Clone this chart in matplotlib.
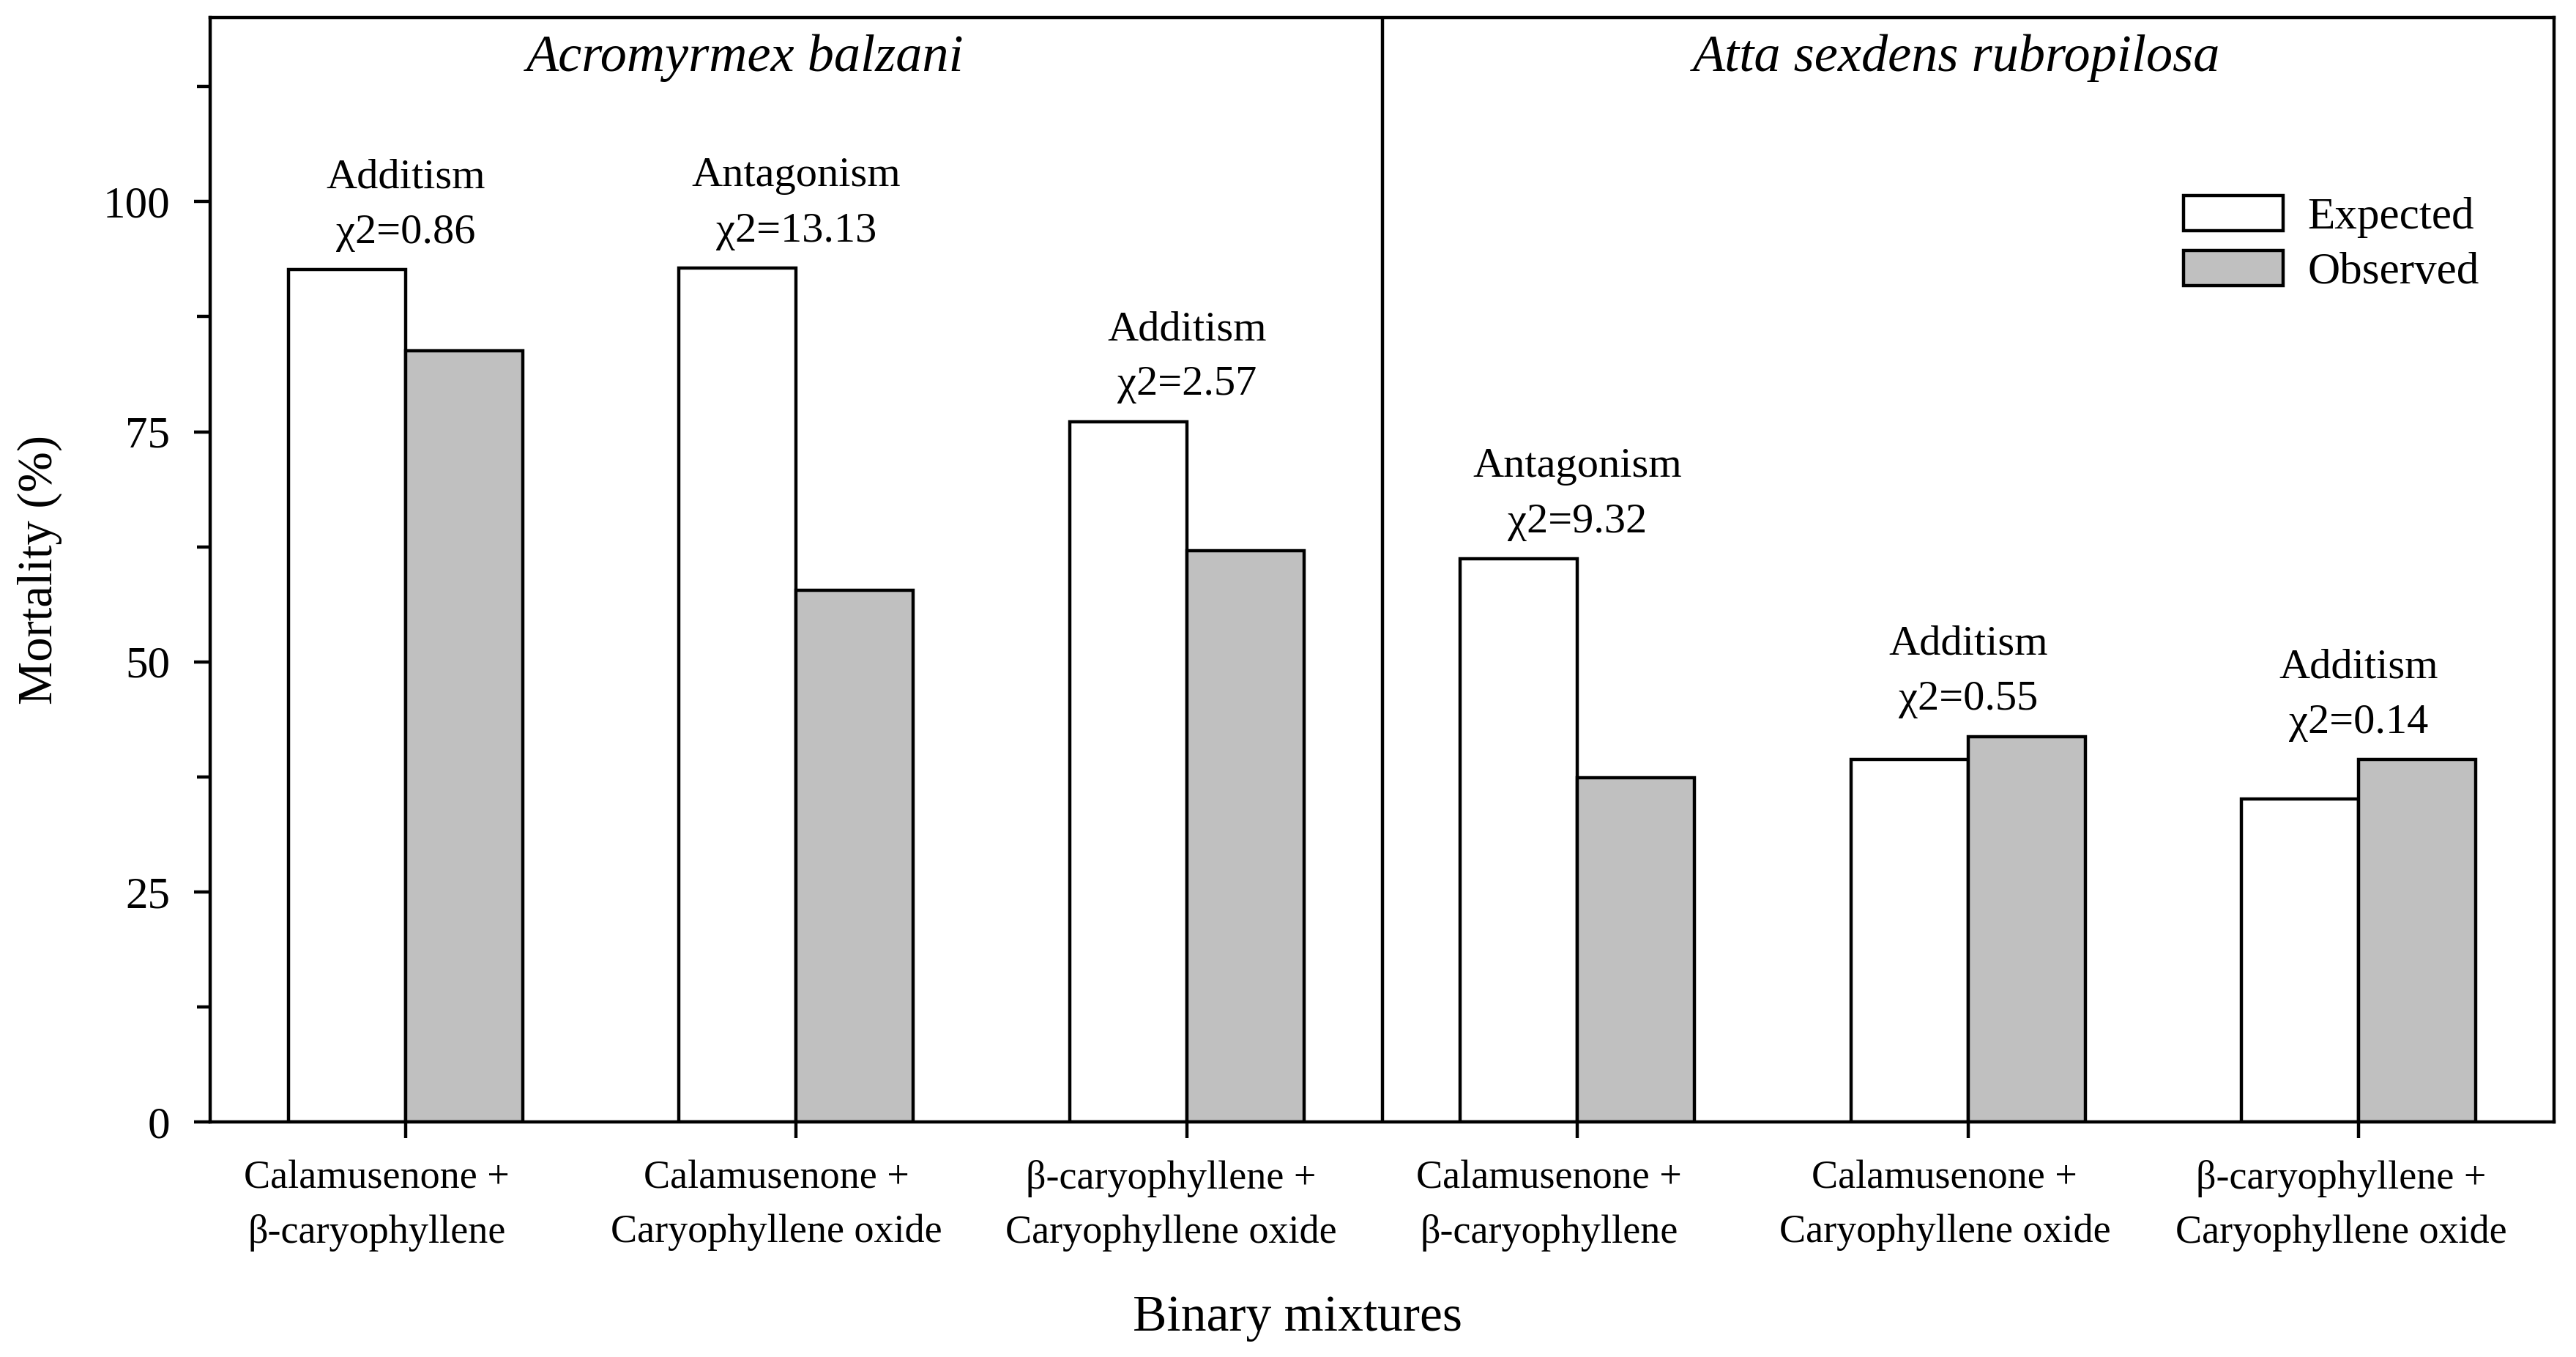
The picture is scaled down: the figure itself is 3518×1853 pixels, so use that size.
import matplotlib
matplotlib.use("Agg")
import matplotlib.pyplot as plt
import matplotlib.transforms as mtransforms
from matplotlib.ticker import MultipleLocator
import numpy as np

plt.rcParams['font.family'] = ['Liberation Serif', 'DejaVu Serif']

# data
mixtures = [
    "Calamusenone +\n\u03b2-caryophyllene",
    "Calamusenone +\nCaryophyllene oxide",
    "\u03b2-caryophyllene +\nCaryophyllene oxide",
    "Calamusenone +\n\u03b2-caryophyllene",
    "Calamusenone +\nCaryophyllene oxide",
    "\u03b2-caryophyllene +\nCaryophyllene oxide",
]
expected = [92.6, 92.8, 76.1, 61.2, 39.4, 35.1]
observed = [83.8, 57.8, 62.1, 37.4, 41.9, 39.4]
effects = ["Additism", "Antagonism", "Additism", "Antagonism", "Additism", "Additism"]
chi2 = ["0.86", "13.13", "2.57", "9.32", "0.55", "0.14"]
species = ["Acromyrmex balzani", "Atta sexdens rubropilosa"]

# tick labels in the original sit a bit left of their ticks (pixels at 200 dpi)
label_shift = [-39, -27, -22, -39, -32, -24]

lw = 1.6
DPI = 200
fig = plt.figure(figsize=(17.59, 9.265), dpi=DPI)
ax = fig.add_axes([0.0816, 0.1732, 0.9099, 0.8138])

x = np.arange(len(mixtures))
w = 0.3
ax.bar(x - w / 2, expected, w, color="white", edgecolor="black", linewidth=lw, label="Expected", zorder=2)
ax.bar(x + w / 2, observed, w, color="#c0c0c0", edgecolor="black", linewidth=lw, label="Observed", zorder=2)

for i in range(len(mixtures)):
    top = max(expected[i], observed[i])
    ax.text(x[i], top + 4.0, "\u03c72=" + chi2[i], ha="center", va="center", fontsize=21)
    ax.text(x[i], top + 10.0, effects[i], ha="center", va="center", fontsize=21)

# panel divider and species names
ax.axvline(2.5, color="black", linewidth=lw, zorder=1)
ax.text(0.87, 114.2, species[0], ha="center", va="baseline", fontsize=26, style="italic")
ax.text(3.97, 114.2, species[1], ha="center", va="baseline", fontsize=26, style="italic")

ax.set_xlim(-0.5, 5.5)
ax.set_ylim(0, 120)
ax.set_xticks(x)
ax.set_xticklabels([])
for i, lab in enumerate(mixtures):
    off = mtransforms.ScaledTranslation(label_shift[i] / DPI, -52 / DPI, fig.dpi_scale_trans)
    ax.text(x[i], 0, lab, transform=ax.get_xaxis_transform() + off,
            ha="center", va="top", fontsize=19.5, linespacing=1.6, clip_on=False)

ax.set_yticks([0, 25, 50, 75, 100])
ax.yaxis.set_minor_locator(MultipleLocator(12.5))
ax.tick_params(axis="y", which="major", direction="out", length=7.8, width=lw, labelsize=22, pad=12)
ax.tick_params(axis="y", which="minor", direction="out", length=6.5, width=lw)
ax.tick_params(axis="x", which="major", direction="out", length=7.8, width=lw)
for s in ax.spines.values():
    s.set_linewidth(lw)

ax.set_ylabel("Mortality (%)", fontsize=24, va="center")
ax.yaxis.set_label_coords(-0.0727, 0.5)
fig.text(1772 / 3518, 1 - 1800 / 1853, "Binary mixtures", ha="center", va="center", fontsize=25)

leg = ax.legend(loc="upper left", bbox_to_anchor=(2982 / 3518, 1 - 267 / 1853),
                bbox_transform=fig.transFigure, frameon=False, fontsize=22,
                handlelength=2.23, handleheight=0.82, labelspacing=0.28,
                handletextpad=0.54, borderpad=0, borderaxespad=0)

fig.savefig("out.png", dpi=DPI)
